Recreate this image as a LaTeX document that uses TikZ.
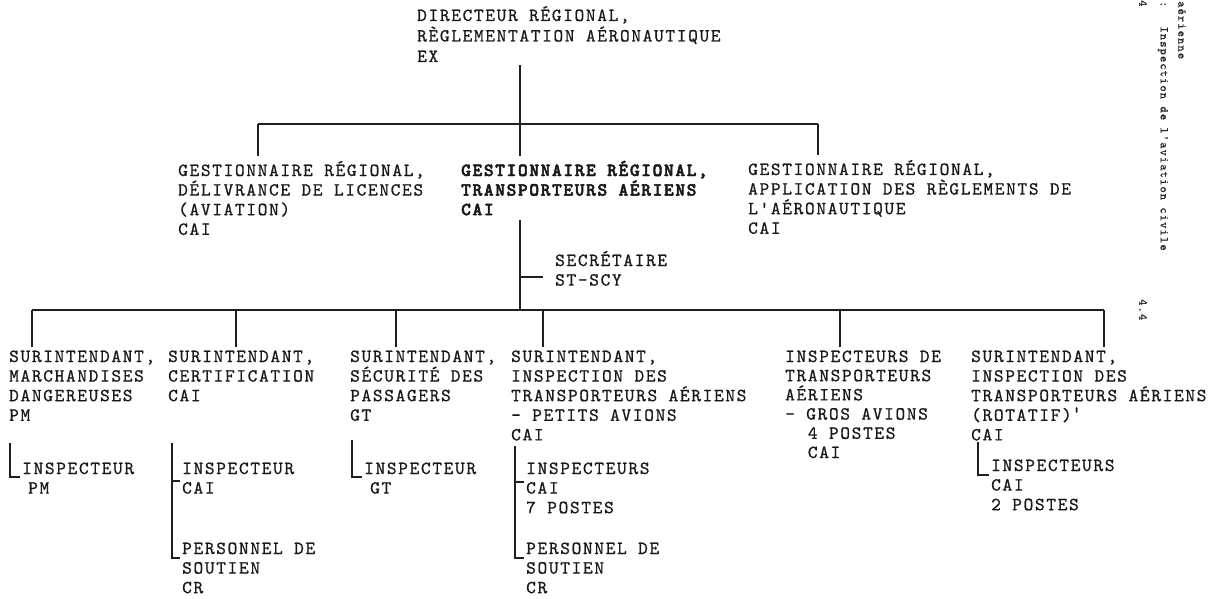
\documentclass[tikz,border=0pt]{standalone}
\usepackage{fontspec}
\newfontfamily\twfam{lmmono10-regular}[Extension=.otf, BoldFont=lmmonolt10-bold, LetterSpace=8.9, UprightFeatures={FakeBold=0.7}, BoldFeatures={FakeBold=2.6}]
\newcommand\tw{\twfam\fontsize{18.5}{19.6}\selectfont}
\newcommand\twsmall{\twfam\fontsize{12}{13}\selectfont}
\newcommand\orglines[2][19.6pt]{\vtop{\baselineskip=#1\lineskiplimit=-50pt\lineskip=0pt\halign{##\hfil\cr#2\crcr}}}
\newcommand\ind{\hspace*{22.7pt}}
\begin{document}
\begin{tikzpicture}[x=1pt,y=-1pt,
  conn/.style={draw=black!88, line width=1.2pt},
  box/.style={anchor=base west, inner sep=0pt, font=\tw, text=black!90},
  side/.style={rotate=-90, anchor=west, inner sep=0pt, font=\twsmall, text=black!85}]
\useasboundingbox (0,0) rectangle (1224,599);
\fill[white] (0,0) rectangle (1224,599);

% ---------- texts ----------
\node[box] (top) at (417,21) {\orglines[20.5pt]{DIRECTEUR RÉGIONAL,\cr RÈGLEMENTATION AÉRONAUTIQUE\cr EX}};

\node[box] (g1) at (178,176) {\orglines{GESTIONNAIRE RÉGIONAL,\cr DÉLIVRANCE DE LICENCES\cr (AVIATION)\cr CAI}};
\node[box, font=\tw\bfseries] (g2) at (461,176) {\orglines{GESTIONNAIRE RÉGIONAL,\cr TRANSPORTEURS AÉRIENS\cr CAI}};
\node[box] (g3) at (748,175) {\orglines{GESTIONNAIRE RÉGIONAL,\cr APPLICATION DES RÈGLEMENTS DE\cr L'AÉRONAUTIQUE\cr CAI}};

\node[box] (sec) at (555,266) {\orglines{SECRÉTAIRE\cr ST-SCY}};

\node[box] (nA) at (9,362) {\orglines{SURINTENDANT,\cr MARCHANDISES\cr DANGEREUSES\cr PM}};
\node[box] (nB) at (168,362) {\orglines{SURINTENDANT,\cr CERTIFICATION\cr CAI}};
\node[box] (nC) at (350,362) {\orglines{SURINTENDANT,\cr SÉCURITÉ DES\cr PASSAGERS\cr GT}};
\node[box] (nD) at (511,362) {\orglines{SURINTENDANT,\cr INSPECTION DES\cr TRANSPORTEURS AÉRIENS\cr - PETITS AVIONS\cr CAI}};
\node[box] (nE) at (785,362) {\orglines[19.2pt]{INSPECTEURS DE\cr TRANSPORTEURS\cr AÉRIENS\cr - GROS AVIONS\cr \ind 4 POSTES\cr \ind CAI}};
\node[box] (nF) at (971,362) {\orglines{SURINTENDANT,\cr INSPECTION DES\cr TRANSPORTEURS AÉRIENS\cr (ROTATIF)\raisebox{2pt}{'}\cr CAI}};

\node[box] (aI) at (22,474) {\orglines{INSPECTEUR\cr \hspace*{6pt}PM}};
\node[box] (bI) at (182,474) {\orglines{INSPECTEUR\cr CAI}};
\node[box] (bP) at (182,554) {\orglines{PERSONNEL DE\cr SOUTIEN\cr CR}};
\node[box] (cI) at (364,474) {\orglines{INSPECTEUR\cr \hspace*{6pt}GT}};
\node[box] (dI) at (526,474) {\orglines{INSPECTEURS\cr CAI\cr 7 POSTES}};
\node[box] (dP) at (526,554) {\orglines{PERSONNEL DE\cr SOUTIEN\cr CR}};
\node[box] (fI) at (991,471) {\orglines{INSPECTEURS\cr CAI\cr 2 POSTES}};

% margin (rotated page header)
\node[side] (m1) at (1182,1) {aérienne};
\node[side] (m2) at (1163,1) {:\hspace*{19pt}Inspection de l'aviation civile};
\node[side] (m3) at (1143,0) {4};
\node[side] (m4) at (1143,299) {4.4};

% ---------- connectors ----------
\coordinate (tb) at (520,124);
\coordinate (tbL) at (258,124);
\coordinate (tbR) at (818,124);
\draw[conn] ([yshift=-3pt]top.south -| tb) -- (tb);
\draw[conn] (tbL) -- (tbR);
\draw[conn] (tbL) -- ([yshift=5pt]g1.north -| tbL);
\draw[conn] (tb) -- ([yshift=5pt]g2.north -| tb);
\draw[conn] (tbR) -- ([yshift=5pt]g3.north -| tbR);

\coordinate (lb) at (520,310);
\coordinate (sk) at (520,277);
\draw[conn] ([yshift=-4pt]g2.south -| lb) -- (lb);
\draw[conn] (sk) -- ([xshift=-12pt]sk -| sec.west);

\coordinate (lbA) at (32,310);
\coordinate (lbB) at (236,310);
\coordinate (lbC) at (396,310);
\coordinate (lbD) at (543,310);
\coordinate (lbE) at (840,310);
\coordinate (lbF) at (1104,310);
\draw[conn] (lbA) -- (lbF);
\foreach \c/\n in {lbA/nA, lbB/nB, lbC/nC, lbD/nD, lbE/nE, lbF/nF}
  \draw[conn] (\c) -- ([yshift=3pt]\n.north -| \c);

% sub branches
\coordinate (aS) at (10,443);  \coordinate (aC) at (10,477);
\draw[conn] (aS) -- (aC) -- ([xshift=-2pt]aC -| aI.west);
\coordinate (bS) at (172,443); \coordinate (bT) at (172,481); \coordinate (bC) at (172,558);
\draw[conn] (bS) -- (bC) -- ([xshift=-2pt]bC -| bP.west);
\draw[conn] (bT) -- ([xshift=-2pt]bT -| bI.west);
\coordinate (cS) at (352,440); \coordinate (cC) at (352,477);
\draw[conn] (cS) -- (cC) -- ([xshift=-2pt]cC -| cI.west);
\coordinate (dS) at (515,446); \coordinate (dT) at (515,482); \coordinate (dC) at (515,558);
\draw[conn] (dS) -- (dC) -- ([xshift=-2pt]dC -| dP.west);
\draw[conn] (dT) -- ([xshift=-2pt]dT -| dI.west);
\coordinate (fS) at (978,442); \coordinate (fC) at (978,475);
\draw[conn] (fS) -- (fC) -- ([xshift=-2pt]fC -| fI.west);
\end{tikzpicture}
\end{document}
